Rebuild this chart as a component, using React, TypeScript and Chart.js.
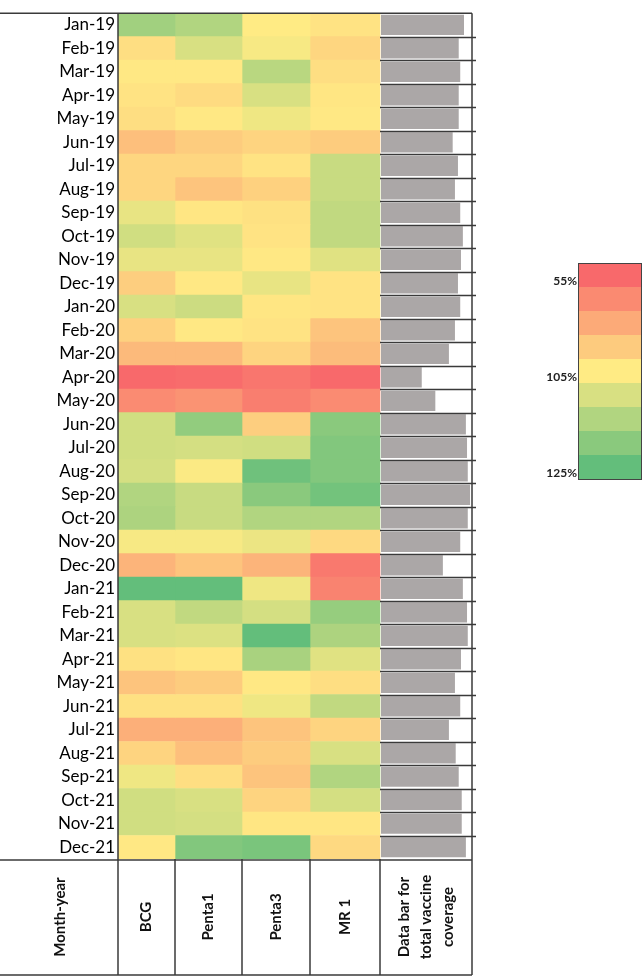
import React, { useEffect, useRef } from "react";
import { Chart, registerables } from "chart.js";

Chart.register(...registerables);

// Month labels (rows)
const months = [
  "Jan-19", "Feb-19", "Mar-19", "Apr-19", "May-19", "Jun-19",
  "Jul-19", "Aug-19", "Sep-19", "Oct-19", "Nov-19", "Dec-19",
  "Jan-20", "Feb-20", "Mar-20", "Apr-20", "May-20", "Jun-20",
  "Jul-20", "Aug-20", "Sep-20", "Oct-20", "Nov-20", "Dec-20",
  "Jan-21", "Feb-21", "Mar-21", "Apr-21", "May-21", "Jun-21",
  "Jul-21", "Aug-21", "Sep-21", "Oct-21", "Nov-21", "Dec-21",
];

// Monthly coverage (%) per vaccine
const bcg = [
  117, 100, 104, 102, 100, 88, 97, 97, 108, 111, 108, 94,
  110, 95, 86, 55, 68, 111, 111, 110.5, 115, 115.5, 106, 84,
  125, 110, 110, 101, 90, 101, 82, 96, 107, 111, 111, 104,
];
const penta1 = [
  115, 110, 104, 99, 104, 93, 97, 90, 103, 109, 108, 104,
  111.5, 104, 86, 56, 71, 119, 110.5, 105.5, 112, 112, 106, 90,
  125, 113, 109.5, 103, 93, 101, 82, 88, 100, 110, 110.5, 121,
];
const penta3 = [
  105, 106, 114, 110, 107, 96, 102, 95, 101, 102, 104, 108,
  103, 102, 96, 60, 63, 94, 111, 123.5, 120, 115, 107.5, 84,
  107, 110.5, 125, 116, 104, 107, 90, 93, 90, 96, 103, 122,
];
const mr1 = [
  102, 97, 100, 103, 104, 93, 112, 112, 113, 113, 109, 102,
  102, 90, 87, 55, 68, 120, 121, 121, 123, 115, 98, 61,
  65, 118.5, 115.5, 109, 100, 113, 96, 110, 115, 110.5, 103, 98,
];

// Total vaccine coverage (%) shown as data bars
const totalCoverage = [
  110, 103, 105, 103, 103, 95, 102, 98, 105, 108.5, 106, 102,
  105, 98, 90, 54, 72, 112.5, 114, 115, 118, 115, 105, 82,
  108.5, 114, 115, 106, 98, 105, 90, 99, 103, 107, 107, 112.5,
];

const vaccineNames = ["BCG", "Penta1", "Penta3", "MR 1"];
const rowHeader = "Month-year";
const barHeader = ["Data bar for", "total vaccine", "coverage"];

// Colour scale stops: low (red), mid (yellow), high (green)
const scaleStops = [55, 105, 125];
const legendLabels = ["55%", "105%", "125%"];

// Layout (pixels)
const W = 644;
const H = 980;
const LABEL_COL = 118;
const COL_WIDTHS = [57, 67, 68, 70, 92];
const TABLE_RIGHT = LABEL_COL + COL_WIDTHS.reduce((a, b) => a + b, 0);
const HEADER_H = 116;
const BAR_AXIS_MAX = 120.6;
const LEGEND = { x: 578, y: 263, w: 63, bandH: 24, bands: 9 };

const RED = [248, 105, 107];
const YEL = [255, 235, 132];
const GRN = [99, 190, 123];

function mix(a: number[], b: number[], t: number) {
  const c = a.map((v, i) => Math.round(v + (b[i] - v) * t));
  return `rgb(${c[0]},${c[1]},${c[2]})`;
}

function coverageColor(v: number) {
  const [lo, mid, hi] = scaleStops;
  if (v <= mid) {
    const t = Math.max(0, Math.min(1, (v - lo) / (mid - lo)));
    return mix(RED, YEL, t);
  }
  const t = Math.max(0, Math.min(1, (v - mid) / (hi - mid)));
  return mix(YEL, GRN, t);
}

const FONT = "Lato, 'Open Sans', sans-serif";

const tablePlugin = {
  id: "tableFrame",
  afterDraw(chart: any) {
    const ctx = chart.ctx as CanvasRenderingContext2D;
    const { left, right, top, bottom } = chart.chartArea;
    const xs = chart.scales.x;
    const n = months.length;
    const rowH = (bottom - top) / n;
    const headBottom = bottom + HEADER_H;
    const edges: number[] = [0];
    COL_WIDTHS.forEach((w, i) => edges.push(edges[i] + w));
    const px = edges.map((e) => xs.getPixelForValue(e));

    ctx.save();
    ctx.strokeStyle = "#3a3a3a";
    ctx.lineWidth = 1.5;
    const line = (x1: number, y1: number, x2: number, y2: number) => {
      ctx.beginPath();
      ctx.moveTo(x1, y1);
      ctx.lineTo(x2, y2);
      ctx.stroke();
    };

    // row separators inside the data bar column
    ctx.lineWidth = 1.3;
    for (let i = 1; i < n; i++) {
      const y = Math.round(top + i * rowH) + 0.5;
      line(px[4], y, right + 4, y);
    }
    ctx.lineWidth = 1.5;

    // outer frame and header grid
    line(0, top, right, top);
    line(px[0], top, px[0], headBottom);
    line(right, top, right, headBottom);
    line(0, bottom + 1, right, bottom + 1);
    line(0, headBottom, right, headBottom);
    for (let i = 1; i < px.length - 1; i++) line(px[i], bottom, px[i], headBottom);

    // rotated header labels
    const midY = (bottom + headBottom) / 2;
    ctx.fillStyle = "#111";
    ctx.font = `bold 15px ${FONT}`;
    ctx.textAlign = "center";
    ctx.textBaseline = "middle";
    const vText = (text: string, x: number) => {
      ctx.save();
      ctx.translate(x, midY);
      ctx.rotate(-Math.PI / 2);
      ctx.fillText(text, 0, 0);
      ctx.restore();
    };
    vText(rowHeader, left / 2 + 1);
    vaccineNames.forEach((name, i) => vText(name, (px[i] + px[i + 1]) / 2));
    const bx = (px[4] + px[5]) / 2;
    barHeader.forEach((t, i) => vText(t, bx + (i - 1) * 22));

    // colour scale legend
    const { x, y, w, bandH, bands } = LEGEND;
    const [lo, mid, hi] = scaleStops;
    const half = (bands - 1) / 2;
    for (let i = 0; i < bands; i++) {
      const v = i <= half ? lo + ((mid - lo) * i) / half : mid + ((hi - mid) * (i - half)) / half;
      ctx.fillStyle = coverageColor(v);
      ctx.fillRect(x, y + i * bandH, w, bandH);
    }
    ctx.strokeStyle = "#444";
    ctx.lineWidth = 1;
    ctx.strokeRect(x + 0.5, y + 0.5, w, bands * bandH);
    ctx.fillStyle = "#222";
    ctx.font = `bold 12px ${FONT}`;
    ctx.textAlign = "right";
    ctx.textBaseline = "middle";
    const labelBands = [0, half, bands - 1];
    legendLabels.forEach((t, i) => {
      ctx.fillText(t, x - 1, y + (labelBands[i] + 1) * bandH - 6);
    });
    ctx.restore();
  },
};

export default function App() {
  const ref = useRef<HTMLCanvasElement>(null);

  useEffect(() => {
    if (!ref.current) return;
    const edges: number[] = [0];
    COL_WIDTHS.forEach((w, i) => edges.push(edges[i] + w));
    const span = edges[edges.length - 1];
    const barColStart = edges[4] + 1;
    // data-bar axis: 0 at the start of the last column, BAR_AXIS_MAX at the table edge
    const frac = barColStart / span;
    const barMin = (-frac * BAR_AXIS_MAX) / (1 - frac);

    const series = [bcg, penta1, penta3, mr1];
    const datasets: any[] = series.map((vals, i) => ({
      label: vaccineNames[i],
      data: months.map(() => [edges[i], edges[i + 1]]),
      backgroundColor: vals.map(coverageColor),
      borderWidth: 0,
      barPercentage: 1,
      categoryPercentage: 1,
      grouped: false,
      xAxisID: "x",
    }));
    datasets.push({
      label: "Total coverage",
      data: totalCoverage,
      backgroundColor: "#aba7a7",
      borderWidth: 0,
      barPercentage: 0.86,
      categoryPercentage: 1,
      grouped: false,
      xAxisID: "xb",
    });

    const chart = new Chart(ref.current, {
      type: "bar",
      data: { labels: months, datasets },
      options: {
        indexAxis: "y",
        responsive: false,
        animation: false,
        devicePixelRatio: 1,
        layout: { padding: { left: 0, right: W - TABLE_RIGHT, top: 2, bottom: H - 2 - 857 } },
        plugins: { legend: { display: false }, tooltip: { enabled: false } },
        scales: {
          y: {
            type: "category",
            grid: { display: false, drawTicks: false },
            border: { display: false },
            ticks: { color: "#000", font: { family: FONT, size: 17 }, padding: 3, autoSkip: false },
            afterFit: (s: any) => {
              s.width = LABEL_COL;
            },
          },
          x: { type: "linear", min: 0, max: span, display: false },
          xb: { type: "linear", position: "top", min: barMin, max: BAR_AXIS_MAX, display: false },
        },
      },
      plugins: [tablePlugin],
    });
    return () => chart.destroy();
  }, []);

  return (
    <div style={{ position: "absolute", left: 0, top: 0, width: W, height: H, background: "#fff" }}>
      <canvas ref={ref} width={W} height={H} />
    </div>
  );
}
